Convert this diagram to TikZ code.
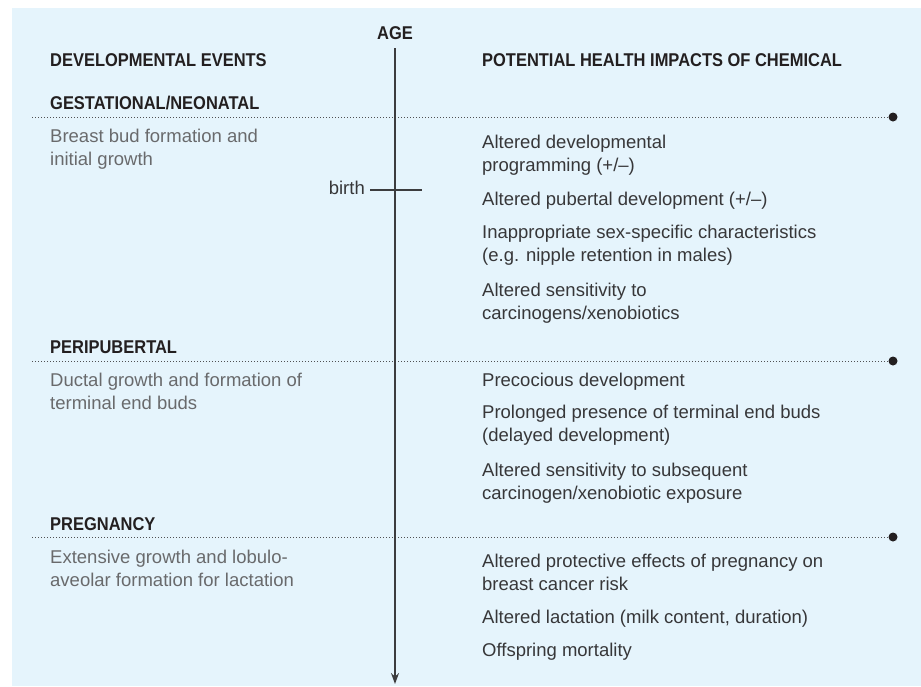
\documentclass[tikz,border=0pt]{standalone}
\usepackage{fontspec}
\setmainfont{Liberation Sans}
\newfontfamily\hdfont{Liberation Sans Bold}[FakeStretch=0.89]
\usetikzlibrary{arrows.meta}
\definecolor{bgblue}{RGB}{229,244,252}
\definecolor{hdcol}{RGB}{35,31,32}
\definecolor{leftcol}{RGB}{105,106,108}
\definecolor{rightcol}{RGB}{55,55,57}
\definecolor{axiscol}{RGB}{60,60,62}
\definecolor{dotcol}{RGB}{80,80,82}
\tikzset{
  hd/.style={inner sep=0pt, anchor=base west, font=\hdfont\fontsize{18.5}{23}\selectfont, text=hdcol},
  leftdesc/.style={inner sep=0pt, anchor=base west, align=left, font=\fontsize{18.5}{23}\selectfont, text=leftcol},
  impact/.style={inner sep=0pt, anchor=base west, align=left, font=\fontsize{18.5}{23}\selectfont, text=rightcol},
  sepline/.style={draw=dotcol, line width=1pt, dash pattern=on 1pt off 2pt},
  enddot/.style={circle, fill=hdcol, inner sep=0pt, minimum size=9pt},
  axis/.style={draw=axiscol, line width=1.3pt},
}
\begin{document}
\begin{tikzpicture}[x=1pt,y=-1pt]
\useasboundingbox (0,0) rectangle (921,686);
\fill[bgblue] (12,8) rectangle (921,686);

% headings
\node[hd, anchor=base] (age) at (395,39.5) {AGE};
\node[hd] (devh) at (50,66.5) {DEVELOPMENTAL EVENTS};
\node[hd] (imph) at (482,66.5) {POTENTIAL HEALTH IMPACTS OF CHEMICAL};

% axis
\coordinate (axtop) at (395,48);
\coordinate (axbot) at (395,684);

% section: gestational (multi-line nodes: base = last line)
\node[hd] (gest) at (50,109.5) {GESTATIONAL/NEONATAL};
\coordinate (g1) at (32,117);
\node[enddot] (gdot) at (893,117) {};
\draw[sepline] (g1) -- (gdot.west);
\node[leftdesc] (gdesc) at (50,165.5) {Breast bud formation and\\initial growth};
\node[impact] (i1) at (482,171.5) {Altered developmental\\programming (+/--)};
\node[impact] (i2) at (482,205.5) {Altered pubertal development (+/--)};
\node[impact] (i3) at (482,261.5) {Inappropriate sex-specific characteristics\\(e.g. nipple retention in males)};
\node[impact] (i4) at (482,319.5) {Altered sensitivity to\\carcinogens/xenobiotics};

% birth tick
\coordinate (b1) at (370,190);
\coordinate (b2) at (422,190);
\node[inner sep=0pt, anchor=base east, font=\fontsize{18.5}{23}\selectfont, text=rightcol] (birth) at (365,194.5) {birth};

% section: peripubertal
\node[hd] (peri) at (50,353.5) {PERIPUBERTAL};
\coordinate (p1) at (32,361);
\node[enddot] (pdot) at (893,361) {};
\draw[sepline] (p1) -- (pdot.west);
\node[leftdesc] (pdesc) at (50,409.5) {Ductal growth and formation of\\terminal end buds};
\node[impact] (j1) at (482,386.5) {Precocious development};
\node[impact] (j2) at (482,441.5) {Prolonged presence of terminal end buds\\(delayed development)};
\node[impact] (j3) at (482,499.5) {Altered sensitivity to subsequent\\carcinogen/xenobiotic exposure};

% section: pregnancy
\node[hd] (preg) at (50,530.5) {PREGNANCY};
\coordinate (r1) at (32,537);
\node[enddot] (rdot) at (893,537) {};
\draw[sepline] (r1) -- (rdot.west);
\node[leftdesc] (rdesc) at (50,586.5) {Extensive growth and lobulo-\\aveolar formation for lactation};
\node[impact] (k1) at (482,590.5) {Altered protective effects of pregnancy on\\breast cancer risk};
\node[impact] (k2) at (482,623.5) {Altered lactation (milk content, duration)};
\node[impact] (k3) at (482,656.5) {Offspring mortality};

% axis drawn on top
\draw[axis, -{Stealth[length=11pt,width=8pt]}] (axtop) -- (axbot);
\draw[draw=axiscol, line width=1.1pt] (b1) -- (b2);
\end{tikzpicture}
\end{document}
